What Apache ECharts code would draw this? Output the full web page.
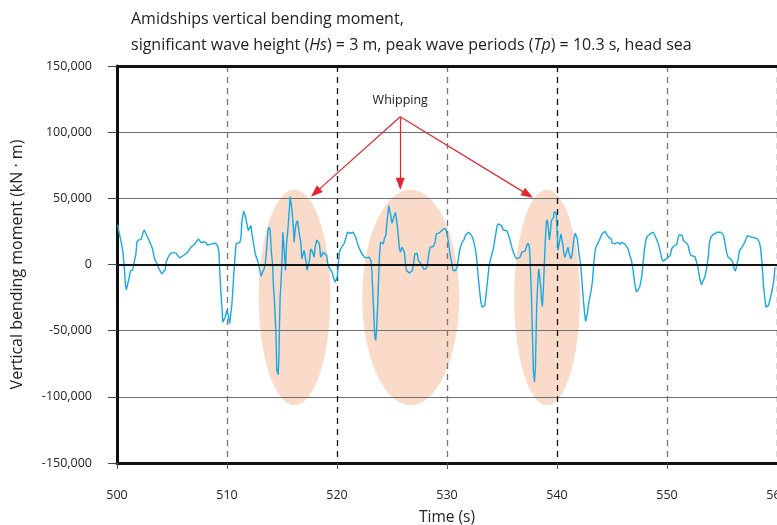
<!DOCTYPE html>
<html lang="en">
  <head>
    <meta charset="UTF-8" />
    <title>Amidships vertical bending moment</title>
    <style>
      html, body { margin: 0; padding: 0; background: #fff; overflow: hidden; }
      #chart { width: 777px; height: 525px; }
    </style>
  </head>
  <body>
    <div id="chart"></div>
    <script src="https://cdn.jsdelivr.net/npm/echarts@6/dist/echarts.min.js"></script>
    <script>
      // time (s), moment (kN·m), in 12 s chunks
      const trace500 = [
        [500.06, 30200], [500.21, 23100], [500.39, 16800], [500.54, 9300], [500.66, -2000], [500.76, -14600],
        [500.85, -19100], [501.0, -19100], [501.12, -9500], [501.21, -5000], [501.42, -4000], [501.6, -2500],
        [501.72, 8000], [501.81, 16800], [501.96, 18600], [502.18, 18800], [502.33, 23100], [502.48, 26100],
        [502.6, 25600], [502.75, 21100], [502.93, 18100], [503.11, 16800], [503.23, 11800], [503.35, 6800],
        [503.47, 3000], [503.63, 1000], [503.78, -2500], [503.93, -5000], [504.08, -7000], [504.26, -7000],
        [504.38, -4000], [504.47, 1800], [504.62, 5000], [504.74, 6800], [504.92, 8800], [505.14, 8800],
        [505.35, 8800], [505.53, 8000], [505.68, 5000], [505.83, 5000], [506.04, 6800], [506.25, 8000],
        [506.5, 10100], [506.62, 11800], [506.8, 13600], [507.04, 15100], [507.25, 17600], [507.4, 19400],
        [507.55, 18600], [507.64, 16600], [507.85, 17100], [508.1, 16600], [508.22, 14600], [508.4, 14800],
        [508.61, 15600], [508.76, 16100], [508.97, 16100], [509.15, 14100], [509.27, 9300], [509.34, -4500],
        [509.43, -19600], [509.52, -29700], [509.61, -43500], [509.73, -44200], [509.85, -39700], [509.97, -34700],
        [510.12, -38400], [510.24, -44700], [510.36, -45200], [510.45, -29700], [510.6, -9500], [510.73, 5500],
        [510.82, 15600], [510.97, 16800], [511.18, 16800], [511.27, 20600], [511.36, 33200]
      ];
      const trace512 = [
        [511.51, 40200], [511.66, 36900], [511.81, 30700], [511.93, 25600], [512.05, 26900], [512.18, 29400],
        [512.27, 23100], [512.42, 15600], [512.57, 8000], [512.72, 4300], [512.87, 500], [513.02, -5800],
        [513.11, -9000], [513.23, -5800], [513.38, -3300], [513.5, 1800], [513.62, 13100], [513.72, 25600],
        [513.84, 28100], [513.93, 25600], [514.02, 10600], [514.14, 500], [514.23, -17100], [514.35, -33400],
        [514.44, -49800], [514.53, -79900], [514.65, -83200], [514.71, -72400], [514.77, -47200], [514.83, -24600],
        [514.92, -12100], [515.01, 5500], [515.08, 24400], [515.14, 25600], [515.23, 6800], [515.32, -4500],
        [515.41, 15600], [515.5, 23100], [515.62, 35700], [515.74, 51300], [515.83, 52000], [515.92, 40700],
        [516.04, 26900], [516.1, 16800], [516.19, 25600], [516.28, 30700], [516.41, 33200], [516.5, 28100],
        [516.59, 21900], [516.71, 16800], [516.8, 4300], [516.89, 3000], [517.01, 10600], [517.1, 9300],
        [517.19, 1800], [517.28, -4500], [517.4, -4000], [517.49, 3000], [517.61, 11800], [517.7, 13100],
        [517.79, 9300], [517.92, 5500], [518.01, 13100], [518.16, 18600], [518.31, 19400], [518.4, 15600],
        [518.52, 5500], [518.67, 6800], [518.76, 9300], [518.85, 10600], [518.94, 9300], [519.06, 6800],
        [519.18, -800], [519.31, -2500], [519.43, -3300], [519.55, -5800], [519.67, -9500], [519.82, -13300],
        [519.94, -14600], [520.03, -9500], [520.12, 500], [520.21, 9300], [520.33, 11800], [520.48, 13100],
        [520.63, 15600], [520.79, 19400], [520.94, 24400], [521.03, 25600], [521.18, 23600], [521.33, 24400],
        [521.48, 24400], [521.6, 23100], [521.69, 20600], [521.87, 15600], [521.99, 13100], [522.14, 10100],
        [522.3, 7500], [522.45, 6000], [522.6, 5000], [522.75, 5500], [522.93, 5500], [523.08, 3000],
        [523.17, -4500], [523.29, -27100], [523.44, -54800], [523.52, -57300]
      ];
      const trace524 = [
        [523.59, -51000], [523.69, -32200], [523.78, -12100], [523.87, 8000], [523.96, 16800], [524.08, 17600],
        [524.2, 15600], [524.32, 20100], [524.44, 21900], [524.53, 30700], [524.62, 38200], [524.71, 44500],
        [524.8, 43700], [524.89, 36900], [524.98, 31200], [525.08, 33200], [525.2, 36900], [525.32, 39500],
        [525.41, 38700], [525.5, 28100], [525.59, 19400], [525.68, 11800], [525.77, 9300], [525.89, 13100],
        [526.01, 13600], [526.13, 9300], [526.22, 500], [526.31, -4500], [526.43, -5800], [526.59, -6500],
        [526.74, -7800], [526.86, -4500], [526.98, 1800], [527.07, 8000], [527.16, 9300], [527.28, 8500],
        [527.4, 3000], [527.52, 1800], [527.64, 500], [527.76, -1500], [527.92, -4000], [528.04, -4500],
        [528.16, -2500], [528.25, 1800], [528.37, 9300], [528.49, 13100], [528.61, 13100], [528.76, 13600],
        [528.91, 16800], [529.03, 23100], [529.15, 23600], [529.31, 23900], [529.43, 24400], [529.58, 26100],
        [529.7, 26900], [529.82, 27400], [529.94, 25600], [530.06, 20600], [530.15, 15600], [530.27, 8000],
        [530.42, 1800], [530.54, -4500], [530.66, -5800], [530.79, -4500], [530.91, -2000], [531.03, 4300],
        [531.15, 10600], [531.27, 14300], [531.39, 16800], [531.54, 18600], [531.66, 21900], [531.81, 23100],
        [531.96, 24400], [532.08, 24400], [532.24, 21900], [532.36, 19400], [532.48, 15600], [532.6, 10600],
        [532.72, 3000], [532.84, -9500], [532.96, -19600], [533.08, -28400], [533.2, -32200], [533.32, -32900],
        [533.44, -30900], [533.56, -22100], [533.69, -12100], [533.81, -2000], [533.93, 3000], [534.05, 4300],
        [534.17, 10600], [534.29, 15600], [534.41, 21900], [534.53, 28100], [534.65, 30700], [534.8, 31200],
        [534.95, 29400], [535.11, 26100], [535.26, 25600], [535.41, 25600], [535.56, 23100]
      ];
      const trace536 = [
        [535.74, 18100], [535.89, 13100], [536.04, 9300], [536.19, 6000], [536.34, 4300], [536.5, 3500],
        [536.65, 5500], [536.8, 9300], [536.95, 10600], [537.1, 10100], [537.25, 14300], [537.37, 16100],
        [537.46, 14300], [537.52, 9300], [537.58, -2000], [537.67, -22100], [537.76, -49800], [537.85, -79900],
        [537.95, -88700], [538.04, -77400], [538.1, -52300], [538.16, -29700], [538.25, -14600], [538.34, -3300],
        [538.43, -9500], [538.52, -17100], [538.58, -25900], [538.67, -31700], [538.76, -19600], [538.85, 500],
        [538.94, 18100], [539.03, 31900], [539.12, 33700], [539.21, 28100], [539.31, 18600], [539.4, 24400],
        [539.49, 33200], [539.58, 33700], [539.67, 35200], [539.76, 40200], [539.85, 41200], [539.94, 38200],
        [540.0, 26900], [540.09, 10600], [540.18, 11800], [540.27, 19400], [540.36, 23100], [540.45, 21900],
        [540.54, 14300], [540.63, 8000], [540.72, 5500], [540.82, 4300], [540.91, 10600], [541.0, 13100],
        [541.09, 9300], [541.18, 6000], [541.27, 4300], [541.36, 6800], [541.45, 13100], [541.57, 20600],
        [541.66, 23600], [541.75, 23100], [541.84, 19400], [541.93, 13100], [542.02, 6800], [542.14, 500],
        [542.24, -9500], [542.33, -19600], [542.42, -28400], [542.51, -37200], [542.6, -43000], [542.69, -42700],
        [542.78, -35900], [542.87, -29700], [542.99, -24600], [543.11, -19600], [543.23, -12100], [543.35, 1800],
        [543.47, 10600], [543.59, 14300], [543.72, 15600], [543.84, 18100], [543.96, 20600], [544.08, 23100],
        [544.2, 24400], [544.35, 25100], [544.5, 23100], [544.65, 21100], [544.8, 20100], [544.92, 19400],
        [545.01, 16100], [545.13, 15100], [545.25, 15600], [545.38, 16800], [545.5, 16800], [545.62, 16100],
        [545.74, 15100], [545.86, 16800], [546.01, 17300], [546.16, 15600], [546.31, 15600], [546.47, 11800],
        [546.62, 6800], [546.77, 3000], [546.92, -4500], [547.07, -14600], [547.22, -20900], [547.37, -21600],
        [547.52, -17100]
      ];
      const trace548 = [
        [547.7, -9500], [547.82, 500], [547.94, 10600], [548.07, 18100], [548.19, 21100], [548.37, 22400],
        [548.55, 23600], [548.76, 24400], [548.91, 23100], [549.03, 19400], [549.15, 16800], [549.27, 14300],
        [549.4, 9300], [549.52, 4300], [549.64, 2500], [549.76, 3000], [549.94, 4300], [550.12, 5000],
        [550.3, 6800], [550.42, 11800], [550.57, 13600], [550.73, 14300], [550.88, 15100], [550.97, 18600],
        [551.09, 22400], [551.24, 23100], [551.39, 21900], [551.48, 18100], [551.63, 16800], [551.78, 16100],
        [551.93, 14300], [552.05, 9300], [552.18, 6800], [552.36, 6000], [552.54, 6000], [552.69, 5500],
        [552.78, -800], [552.9, -7000], [553.02, -12100], [553.14, -15300], [553.29, -14600], [553.44, -9500],
        [553.59, -3300], [553.75, 5500], [553.84, 15600], [553.99, 20600], [554.17, 22600], [554.35, 23600],
        [554.59, 24400], [554.83, 24400], [555.02, 23600], [555.14, 21900], [555.26, 16800], [555.41, 9300],
        [555.56, 5500], [555.71, 5000], [555.86, 3500], [555.98, 1800], [556.1, -3300], [556.22, -5000],
        [556.34, -4000], [556.47, 4300], [556.59, 10600], [556.71, 11800], [556.83, 13100], [556.95, 14300],
        [557.07, 16800], [557.19, 19400], [557.31, 21900], [557.52, 21100], [557.73, 20600], [557.98, 20100],
        [558.22, 19400], [558.4, 16800], [558.52, 11800], [558.64, 500], [558.76, -14600], [558.88, -24600],
        [559.0, -32200], [559.12, -33400], [559.24, -30900], [559.37, -25900], [559.49, -22100], [559.61, -17100],
        [559.73, -10800], [559.82, -2000]
      ];

      // shaded whipping zones: centre time, centre moment, half-width (s), half-height (kN·m)
      const whippingZones = [
        [516.14, -24900, 3.26, 81400],
        [526.7, -24900, 4.4, 81400],
        [539.1, -24900, 2.99, 81400]
      ];
      const labelPoint = [525.75, 124300];
      const arrowStart = [525.75, 111600];
      const arrowTips = [[518.04, 54300], [525.75, 61100], [537.35, 52800]];

      const trace = [].concat(trace500, trace512, trace524, trace536, trace548);
      const font = "'Open Sans', sans-serif";

      const chart = echarts.init(document.getElementById("chart"));
      chart.setOption({
        animation: false,
        title: {
          text: "Amidships vertical bending moment,\nsignificant wave height ({i|Hs}) = 3 m, peak wave periods ({i|Tp}) = 10.3 s, head sea",
          left: 131,
          top: 6,
          padding: 0,
          textStyle: {
            fontFamily: font,
            fontSize: 16,
            fontWeight: "normal",
            color: "#222",
            lineHeight: 26,
            rich: {
              i: { fontFamily: font, fontSize: 16, fontStyle: "italic", color: "#222", lineHeight: 26 }
            }
          }
        },
        grid: { left: 117, right: 0, top: 66, bottom: 62, outerBoundsMode: "none", containLabel: false },
        xAxis: [
          {
            type: "value",
            min: 500,
            max: 560,
            interval: 10,
            name: "Time (s)",
            nameLocation: "middle",
            nameGap: 47,
            nameTextStyle: { fontFamily: font, fontSize: 15.5, color: "#222" },
            axisLine: { onZero: false, lineStyle: { color: "#111", width: 3 } },
            axisTick: { show: true, length: 6, lineStyle: { color: "#555" } },
            axisLabel: { fontFamily: font, fontSize: 12.5, color: "#222", margin: 26 },
            splitLine: {
              show: true,
              lineStyle: { color: ["#111", "#777"], width: 1.3, type: [6, 5] }
            }
          },
          {
            type: "value",
            min: 500,
            max: 560,
            position: "top",
            axisLine: { onZero: false, lineStyle: { color: "#111", width: 3 } },
            axisTick: { show: false },
            axisLabel: { show: false },
            splitLine: { show: false }
          }
        ],
        yAxis: {
          type: "value",
          min: -150000,
          max: 150000,
          interval: 50000,
          name: "Vertical bending moment (kN · m)",
          nameLocation: "middle",
          nameGap: 92,
          nameTextStyle: { fontFamily: font, fontSize: 16, color: "#222" },
          axisLine: { show: true, lineStyle: { color: "#111", width: 3 } },
          axisTick: { show: true, length: 9, lineStyle: { color: "#444" } },
          axisLabel: {
            fontFamily: font,
            fontSize: 12.5,
            color: "#222",
            margin: 25,
            formatter: (v) => v.toLocaleString("en-US")
          },
          splitLine: {
            show: true,
            lineStyle: { color: "#6f6f6f", width: 1 }
          }
        },
        series: [
          {
            type: "custom",
            z: -1,
            silent: true,
            data: whippingZones,
            encode: { x: 0, y: 1 },
            renderItem: (params, api) => {
              const c = api.coord([api.value(0), api.value(1)]);
              const s = api.size([api.value(2), api.value(3)]);
              return {
                type: "ellipse",
                shape: { cx: c[0], cy: c[1], rx: s[0], ry: s[1] },
                style: { fill: "#fadbca" }
              };
            }
          },
          {
            type: "line",
            data: trace,
            showSymbol: false,
            symbol: "none",
            lineStyle: { color: "#18a9e4", width: 1.4 },
            markLine: {
              silent: true,
              symbol: "none",
              label: { show: false },
              lineStyle: { color: "#111", width: 2, type: "solid" },
              data: [{ yAxis: 0 }]
            }
          },
          {
            type: "line",
            data: [],
            markLine: {
              silent: true,
              symbol: ["none", "triangle"],
              symbolSize: [9, 12],
              label: { show: false },
              lineStyle: { color: "#e4262c", width: 1.2, type: "solid" },
              itemStyle: { color: "#e4262c" },
              data: arrowTips.map((tip) => [{ coord: arrowStart }, { coord: tip }])
            },
            markPoint: {
              silent: true,
              symbol: "rect",
              symbolSize: 0,
              label: {
                show: true,
                position: "inside",
                formatter: "Whipping",
                fontFamily: font,
                fontSize: 12.5,
                color: "#222"
              },
              data: [{ coord: labelPoint }]
            }
          }
        ]
      });
    </script>
  </body>
</html>
